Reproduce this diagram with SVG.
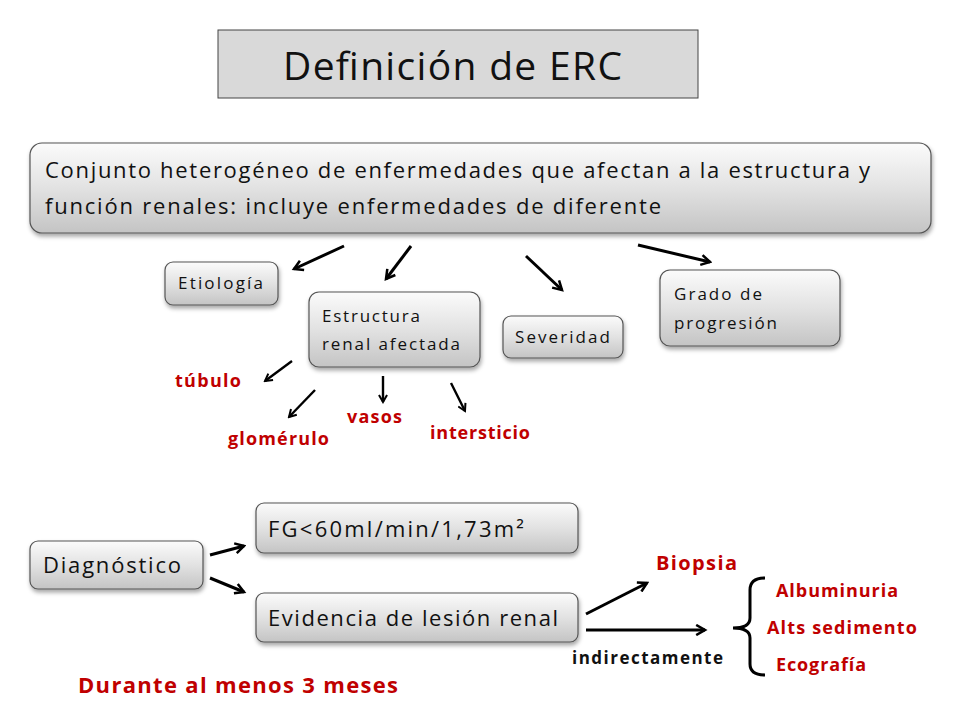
<svg xmlns="http://www.w3.org/2000/svg" width="960" height="720" viewBox="0 0 960 720">
<style>
text{font-family:"Open Sans","Liberation Sans",sans-serif}
.b{fill:url(#g);stroke:#555;stroke-width:1.2;filter:url(#sh)}
.t{font-size:17px;fill:#111}
.T{font-size:22px;fill:#111}
.r{font-size:18px;font-weight:bold;fill:#c00000}
.k{stroke:#000;stroke-width:3;fill:none;marker-end:url(#ah)}
.s{stroke:#000;stroke-width:2.4;fill:none;marker-end:url(#ah)}
</style>
<defs>
<linearGradient id="g" x1="0" y1="0" x2="0" y2="1"><stop offset="0" stop-color="#fbfbfb"/><stop offset="0.5" stop-color="#e2e2e2"/><stop offset="1" stop-color="#c4c4c4"/></linearGradient>
<filter id="sh" x="-10%" y="-20%" width="120%" height="150%"><feDropShadow dx="1" dy="3" stdDeviation="2" flood-color="#000" flood-opacity="0.35"/></filter>
<marker id="ah" viewBox="0 0 10 10" refX="8" refY="5" markerWidth="4.2" markerHeight="4.2" orient="auto" markerUnits="strokeWidth"><polyline points="1,1 8,5 1,9" fill="none" stroke="#000" stroke-width="2"/></marker>
</defs>
<rect width="960" height="720" fill="#fff"/>
<g id="title"><rect x="218" y="30" width="480" height="68" fill="#d9d9d9" stroke="#444" stroke-width="1"/><text x="283" y="80" font-size="39" fill="#111" textLength="339" lengthAdjust="spacing">Definición de ERC</text></g>
<g id="main"><rect class="b" x="30" y="143" width="901" height="90" rx="12"/><text class="T" x="45" y="178" textLength="825" lengthAdjust="spacing">Conjunto heterogéneo de enfermedades  que afectan a la estructura y</text><text class="T" x="45" y="214" textLength="616" lengthAdjust="spacing">función renales:  incluye enfermedades  de diferente</text></g>
<g id="etiologia"><rect class="b" x="165" y="262" width="113" height="43" rx="8"/><text class="t" x="178" y="289" textLength="85" lengthAdjust="spacing">Etiología</text></g>
<g id="estructura"><rect class="b" x="309" y="292" width="171" height="75" rx="10"/><text class="t" x="322" y="322" textLength="98" lengthAdjust="spacing">Estructura</text><text class="t" x="322" y="350" textLength="138" lengthAdjust="spacing">renal afectada</text></g>
<g id="severidad"><rect class="b" x="503" y="316" width="120" height="42" rx="8"/><text class="t" x="515" y="343" textLength="95" lengthAdjust="spacing">Severidad</text></g>
<g id="grado"><rect class="b" x="660" y="270" width="180" height="76" rx="10"/><text class="t" x="674" y="300" textLength="88" lengthAdjust="spacing">Grado de</text><text class="t" x="674" y="329" textLength="103" lengthAdjust="spacing">progresión</text></g>
<g id="labels">
<text class="r" x="175" y="387" textLength="66" lengthAdjust="spacing">túbulo</text><text class="r" x="228" y="445" textLength="101" lengthAdjust="spacing">glomérulo</text><text class="r" x="347" y="423" textLength="55" lengthAdjust="spacing">vasos</text><text class="r" x="430" y="439" textLength="100" lengthAdjust="spacing">intersticio</text>
</g>
<g id="diag"><rect class="b" x="30" y="541" width="173" height="48" rx="8"/><text class="T" x="43" y="573" textLength="138" lengthAdjust="spacing">Diagnóstico</text></g>
<g id="fg"><rect class="b" x="256" y="503" width="322" height="50" rx="8"/><text class="T" x="268" y="537" textLength="256" lengthAdjust="spacing">FG&lt;60ml/min/1,73m²</text></g>
<g id="evid"><rect class="b" x="256" y="593" width="322" height="49" rx="8"/><text class="T" x="268" y="626" textLength="290" lengthAdjust="spacing">Evidencia de lesión renal</text></g>
<g id="connectors">
<line class="k" x1="344" y1="246" x2="294" y2="269"/>
<line class="k" x1="411" y1="246" x2="386" y2="279"/>
<line class="k" x1="526" y1="256" x2="562" y2="290"/>
<line class="k" x1="638" y1="245" x2="710" y2="262"/>
<line class="s" x1="292" y1="361" x2="265" y2="381"/>
<line class="s" x1="315" y1="390" x2="289" y2="417"/>
<line class="s" x1="383" y1="376" x2="383" y2="402"/>
<line class="s" x1="451" y1="383" x2="465" y2="411"/>
<line class="k" x1="210" y1="555" x2="244" y2="546"/>
<line class="k" x1="210" y1="578" x2="244" y2="592"/>
<line class="k" x1="586" y1="614" x2="647" y2="583"/>
<line class="k" x1="586" y1="630" x2="705" y2="630"/>
<path d="M765,578 Q750,578 750,590 L750,618 Q750,628 733,628 Q750,628 750,638 L750,664 Q750,675 765,675" fill="none" stroke="#000" stroke-width="3"/>
</g>
<text x="656" y="570" font-size="20" font-weight="bold" fill="#c00000" textLength="81" lengthAdjust="spacing">Biopsia</text>
<text x="572" y="664" font-size="17" font-weight="bold" fill="#111" textLength="151" lengthAdjust="spacing">indirectamente</text>
<text class="r" x="776" y="597" textLength="122" lengthAdjust="spacing">Albuminuria</text>
<text class="r" x="767" y="634" textLength="150" lengthAdjust="spacing">Alts sedimento</text>
<text class="r" x="776" y="671" textLength="90" lengthAdjust="spacing">Ecografía</text>
<text x="78" y="693" font-size="22" font-weight="bold" fill="#c00000" textLength="320" lengthAdjust="spacing">Durante al menos 3 meses</text>
</svg>
